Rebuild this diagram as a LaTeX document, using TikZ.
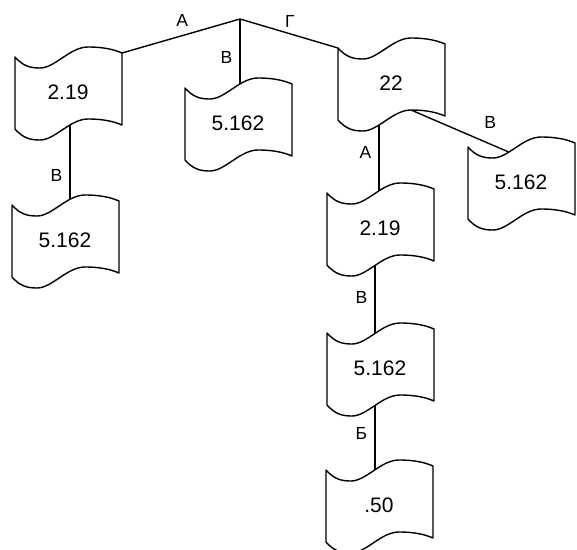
\documentclass[tikz,border=0pt]{standalone}
\usepackage{fontspec}
\setmainfont{Liberation Sans}
\usetikzlibrary{backgrounds}
\tikzset{
  docline/.style={line width=1.4pt, fill=white, line join=round},
  doctext/.style={font=\fontsize{21}{24}\selectfont, inner sep=0},
  lbl/.style={font=\fontsize{17.5}{20}\selectfont, inner sep=0},
  conn/.style={line width=1.4pt},
  doc/.pic={
    \draw[docline] (0,0) coordinate (-tl)
      .. controls (8,-9) and (15,-11) .. (25,-11)
      .. controls (40,-11) and (55,10) .. coordinate[pos=0.35] (-t1) coordinate[pos=0.5] (-tm) coordinate[pos=0.65] (-t2) (73,10)
      .. controls (90,10) and (100,7) .. (107,4) coordinate (-tr)
      -- (107,-68)
      .. controls (100,-65) and (90,-62) .. (73,-62) coordinate (-bc)
      .. controls (55,-62) and (40,-83) .. coordinate[pos=0.35] (-b2) coordinate[pos=0.5] (-bm) coordinate[pos=0.65] (-b1) (25,-83)
      .. controls (15,-83) and (8,-81) .. (0,-72) -- cycle;
    \node[doctext] (-txt) at (53,-35) {#1};
  }
}
\begin{document}
\begin{tikzpicture}[x=1pt,y=1pt]
\useasboundingbox (0,0) rectangle (577,-549);
\pic (n1) at (15,-57) {doc={2.19}};
\pic (n2) at (185,-88) {doc={5.162}};
\pic (n3) at (12,-205) {doc={5.162}};
\pic (n4) at (338,-48) {doc={22}};
\pic (n5) at (468,-147) {doc={5.162}};
\pic (n6) at (327,-193) {doc={2.19}};
\pic (n7) at (327,-333) {doc={5.162}};
\pic (n8) at (326,-470) {doc={.50}};
\coordinate (J) at (240,-19);
\begin{scope}[on background layer]
\draw[conn] (J) -- node[lbl,pos=0.49,above=8pt]{А} (n1-tr);
\draw[conn] (J) -- node[lbl,pos=0.51,above=6pt]{Г} (n4-tl);
\draw[conn] (J) -- node[lbl,pos=0.6,left=7pt]{В} (J |- n2-t2);
\draw[conn] (n1-b2) -- node[lbl,pos=0.66,left=7pt]{В} (n1-b2 |- n3-t2);
\draw[conn] (n4-b1) -- node[lbl,pos=0.4,left=7pt]{А} (n4-b1 |- n6-tm);
\draw[conn] (n4-bc) -- node[lbl,pos=0.81,above=15pt]{В} (n5-t1);
\draw[conn] (n6-bm) -- node[lbl,pos=0.47,left=7pt]{В} (n6-bm |- n7-tm);
\draw[conn] (n7-bm) -- node[lbl,pos=0.43,left=7pt]{Б} (n7-bm |- n8-tm);
\end{scope}
\end{tikzpicture}
\end{document}
